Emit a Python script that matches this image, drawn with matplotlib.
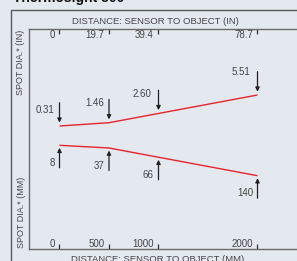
import matplotlib
matplotlib.use("Agg")
import matplotlib.pyplot as plt
from matplotlib.lines import Line2D
from matplotlib.transforms import offset_copy
import numpy as np

# ---- data ----
distance_mm = [0, 500, 1000, 2000]
distance_mm_labels = ["0", "500", "1000", "2000"]
distance_in_labels = ["0", "19.7", "39.4", "78.7"]
spot_in_labels = ["0.31", "1.46", "2.60", "5.51"]
spot_mm_labels = ["8", "37", "66", "140"]
# beam outline (diagram units, not to scale)
beam_x = [0, 500, 2000]
beam_top = [123, 126.3, 154]
beam_bottom = [103.7, 101, 73.3]

# ---- style ----
W, H = 297, 261
DPI = 100
BG = "#e4e8ef"
TXT = "#444444"
RED = "#e8242b"
FRAME = "#5a5a5a"
FONT = ["Liberation Sans", "DejaVu Sans"]
plt.rcParams["font.family"] = FONT

fig = plt.figure(figsize=(W / DPI, H / DPI), dpi=DPI, facecolor=BG)

def fx(px):
    return px / W

def fy(py):
    return 1 - py / H

# outer frame
fig.add_artist(Line2D([fx(11), fx(11), fx(W + 5)], [fy(H + 5), fy(10), fy(10)],
                      color=FRAME, lw=1.0, transform=fig.transFigure))
# title (clipped at top, as in the reference)
fig.text(fx(13), fy(1.8), "Thermosight 500", fontsize=10, fontweight="bold",
         color="#111111", ha="left", va="baseline")

ax_left, ax_right, ax_top, ax_bot = 29, 300, 29, 249
ax = fig.add_axes([fx(ax_left), fy(ax_bot), fx(ax_right - ax_left), (ax_bot - ax_top) / H])
ax.set_facecolor(BG)
a, b = 59.5, 0.099  # px = a + b*mm
ax.set_xlim((ax_left - a) / b, (ax_right - a) / b)
ax.set_ylim(0, ax_bot - ax_top)
for s in ["left", "top", "bottom"]:
    ax.spines[s].set_color("#6a6a6a")
    ax.spines[s].set_linewidth(1.0)
ax.spines["right"].set_visible(False)
ax.set_yticks([])
ax.set_xticks(distance_mm)
ax.tick_params(axis="x", which="both", direction="in", length=3.8, width=0.9,
               color="#333333", top=True, bottom=True, labelbottom=False, labeltop=False)

# tick labels (placed left of ticks, inside axes)
xt = ax.get_xaxis_transform()
for xv, lab in zip(distance_mm, distance_in_labels):
    ax.text(xv, 1, lab, transform=offset_copy(xt, fig=fig, x=-4.5, y=-5.5, units="dots"),
            ha="right", va="center", fontsize=7, color=TXT)
for xv, lab in zip(distance_mm, distance_mm_labels):
    ax.text(xv, 0, lab, transform=offset_copy(xt, fig=fig, x=-4.5, y=4.8, units="dots"),
            ha="right", va="center", fontsize=7, color=TXT)

# beam lines
ax.plot(beam_x, beam_top, color=RED, lw=1.0, solid_capstyle="butt")
ax.plot(beam_x, beam_bottom, color=RED, lw=1.0, solid_capstyle="butt")

top_at = np.interp(distance_mm, beam_x, beam_top)
bot_at = np.interp(distance_mm, beam_x, beam_bottom)

arrow_kw = dict(arrowstyle="-|>", color="#222222", lw=0.9, mutation_scale=6,
                shrinkA=0, shrinkB=0)
up_label_dy = [7.3, 4, 3.7, 0]
up_label_dx = [-5, -4.5, -7, -7]
for xv, yv, lab, ldy, ldx in zip(distance_mm, top_at, spot_in_labels, up_label_dy, up_label_dx):
    tip = yv + 3.3
    tail = tip + 20
    ax.annotate("", xy=(xv, tip), xytext=(xv, tail), arrowprops=arrow_kw)
    ax.text(xv, tail, lab, transform=offset_copy(ax.transData, fig=fig, x=ldx, y=-ldy, units="dots"),
            ha="right", va="center", fontsize=7, color=TXT)

for xv, yv, lab in zip(distance_mm, bot_at, spot_mm_labels):
    tip = yv - 2.5
    tail = tip - 20
    ax.annotate("", xy=(xv, tip), xytext=(xv, tail), arrowprops=arrow_kw)
    ax.text(xv, tail, lab, transform=offset_copy(ax.transData, fig=fig, x=-4.5, y=4.8, units="dots"),
            ha="right", va="center", fontsize=7, color=TXT)

# axis titles
fig.text(fx(155), fy(21), "DISTANCE: SENSOR TO OBJECT (IN)", ha="center", va="center",
         fontsize=6.8, color=TXT)
fig.text(fx(158), fy(255), "DISTANCE: SENSOR TO OBJECT (MM)", ha="center", va="top",
         fontsize=6.8, color=TXT)
fig.text(fx(20.5), fy(62), "SPOT DIA.* (IN)", rotation=90, ha="center", va="center",
         fontsize=6.5, color=TXT)
fig.text(fx(21.5), fy(212), "SPOT DIA.* (MM)", rotation=90, ha="center", va="center",
         fontsize=6.5, color=TXT)

fig.savefig("out.png", dpi=DPI, facecolor=BG)
